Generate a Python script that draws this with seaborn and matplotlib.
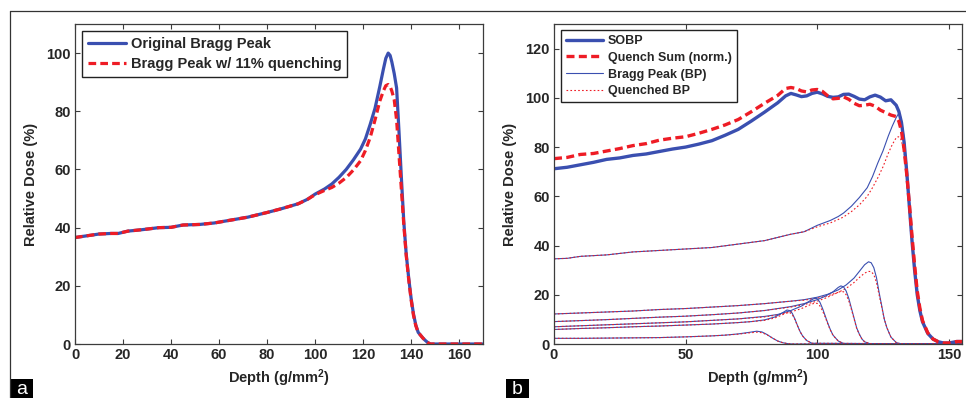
import matplotlib
matplotlib.use("Agg")
import matplotlib.pyplot as plt
import seaborn as sns
from matplotlib.patches import Rectangle
from matplotlib.lines import Line2D

# ---------------- data: panel a ----------------
depth_a = [0, 5, 10, 15, 18, 22, 28, 35, 40, 45, 52, 58, 65, 72, 80, 86, 93, 97, 100,
           104, 107, 110, 113, 116, 119, 121, 123, 125, 127, 128.5, 129.5, 130.5, 131.3,
           132, 133, 134, 135, 136, 137, 138, 139, 140, 141, 142, 143, 144, 145, 146, 147,
           148, 160, 170]
orig_bp = [36.6, 37.2, 37.8, 38.0, 38.0, 38.8, 39.3, 40.0, 40.1, 40.9, 41.1, 41.6, 42.6,
           43.6, 45.2, 46.5, 48.2, 49.8, 51.5, 53.3, 55.0, 57.3, 60.0, 63.3, 67.0, 70.5,
           75.5, 81.0, 88.5, 94.5, 98.2, 100.0, 99.2, 97.0, 93.0, 88.0, 73.0, 57.0, 42.0,
           31.0, 23.0, 16.0, 10.5, 6.5, 4.0, 3.0, 2.0, 1.2, 0.5, 0.0, 0.0, 0.0]
quench_bp = [36.6, 37.2, 37.8, 38.0, 38.0, 38.8, 39.3, 40.0, 40.1, 40.9, 41.1, 41.6, 42.6,
             43.6, 45.2, 46.5, 48.2, 49.8, 51.3, 52.8, 53.8, 55.3, 57.2, 59.8, 63.0, 66.5,
             71.0, 77.0, 83.5, 87.0, 88.8, 89.2, 88.5, 87.0, 84.0, 77.0, 65.0, 53.0, 41.0,
             30.5, 22.5, 15.5, 10.0, 6.3, 4.0, 3.0, 2.0, 1.2, 0.5, 0.0, 0.0, 0.0]

# ---------------- data: panel b ----------------
sobp_depth = [0, 5, 10, 15, 20, 25, 30, 35, 40, 45, 50, 55, 60, 65, 70, 75, 80, 85, 88, 90,
              92, 94, 96, 98, 100, 102, 104, 106, 108, 110, 112, 114, 116, 118, 120, 122,
              124, 126, 128, 130, 131, 132, 133, 134, 135, 136, 137, 138, 139, 140, 142,
              144, 146, 148, 150, 153, 155]
sobp = [71.2, 71.8, 72.8, 73.8, 75.0, 75.6, 76.6, 77.2, 78.2, 79.2, 80.0, 81.2, 82.6, 84.8,
        87.2, 90.6, 94.2, 98.0, 100.8, 101.8, 101.2, 100.5, 100.8, 101.8, 102.3, 101.6,
        100.6, 100.2, 100.4, 101.4, 101.5, 100.6, 99.5, 99.2, 100.4, 101.1, 100.3, 98.8,
        99.2, 97.0, 94.5, 90.0, 82.0, 70.0, 56.0, 42.0, 30.0, 20.0, 13.5, 9.0, 4.3, 2.0,
        0.9, 0.4, 0.4, 1.0, 1.0]
quench_sum = [75.3, 75.8, 77.0, 77.4, 78.4, 79.4, 80.6, 81.4, 82.8, 83.6, 84.2, 85.6, 87.2,
              89.0, 91.2, 94.4, 97.8, 101.0, 103.8, 104.2, 103.8, 102.8, 102.4, 103.2,
              103.4, 102.6, 100.8, 99.6, 99.8, 100.4, 99.4, 97.8, 96.8, 97.0, 97.4, 96.6,
              95.0, 94.0, 93.0, 92.4, 90.5, 86.5, 79.0, 69.0, 57.0, 44.0, 32.0, 21.5, 14.5,
              9.5, 4.5, 2.0, 0.9, 0.4, 0.4, 1.0, 1.0]

bp1_depth = [0, 5, 10, 20, 30, 40, 50, 60, 70, 80, 90, 95, 100, 105, 108, 110, 113, 116,
             119, 121, 123, 125, 127, 128.5, 130, 130.8, 131.5, 132, 133, 134, 135, 136,
             137, 138, 139, 140, 142, 144, 146, 148, 150, 155]
bp1 = [34.6, 34.8, 35.6, 36.2, 37.4, 38.0, 38.6, 39.2, 40.6, 42.0, 44.6, 45.6, 48.2, 50.2,
       51.8, 53.2, 56.0, 59.5, 63.5, 68.0, 73.5, 78.5, 84.5, 88.5, 92.0, 93.4, 93.0, 91.0,
       84.0, 72.0, 58.0, 44.0, 32.0, 21.5, 14.5, 9.5, 4.3, 2.0, 0.8, 0.2, 0.0, 0.0]
qbp1 = [34.6, 34.8, 35.6, 36.2, 37.4, 38.0, 38.6, 39.2, 40.6, 42.0, 44.6, 45.6, 47.6, 49.2,
        50.6, 51.6, 53.8, 56.5, 60.0, 63.5, 67.5, 72.0, 77.5, 81.0, 83.8, 84.2, 83.8, 82.5,
        78.0, 68.0, 56.0, 43.0, 31.5, 21.0, 14.2, 9.3, 4.2, 2.0, 0.8, 0.2, 0.0, 0.0]

bp2_depth = [0, 10, 20, 30, 40, 50, 60, 70, 80, 90, 95, 100, 104, 108, 111, 114, 116, 118,
             119.5, 120.5, 121.5, 122.5, 123.5, 124.5, 125.5, 126.5, 128, 130, 132, 155]
bp2 = [12.2, 12.6, 13.0, 13.4, 14.0, 14.4, 15.0, 15.6, 16.4, 17.4, 18.0, 19.0, 20.2, 22.0,
       24.0, 26.8, 29.5, 32.2, 33.4, 33.0, 31.0, 27.0, 21.0, 15.5, 10.0, 6.5, 2.8, 0.6,
       0.0, 0.0]
qbp2 = [12.2, 12.6, 13.0, 13.4, 14.0, 14.4, 15.0, 15.6, 16.4, 17.4, 17.8, 18.6, 19.6, 21.0,
        22.6, 25.0, 27.0, 28.8, 29.5, 29.4, 28.2, 25.0, 20.0, 15.0, 10.0, 6.5, 2.8, 0.6,
        0.0, 0.0]

bp3_depth = [0, 10, 20, 30, 40, 50, 60, 70, 80, 90, 95, 100, 103, 106, 108, 109, 110, 111,
             112, 113, 114, 115, 116, 117, 118, 120, 155]
bp3 = [9.1, 9.5, 9.9, 10.4, 10.9, 11.3, 11.9, 12.6, 13.6, 15.2, 16.4, 18.0, 19.4, 21.2,
       23.0, 23.6, 23.2, 21.5, 18.5, 14.5, 10.5, 6.5, 4.0, 2.0, 0.9, 0.1, 0.0]
qbp3 = [9.1, 9.5, 9.9, 10.4, 10.9, 11.3, 11.9, 12.6, 13.6, 15.0, 16.0, 17.4, 18.6, 20.0,
        21.0, 21.4, 21.2, 20.0, 17.5, 14.0, 10.2, 6.3, 3.9, 2.0, 0.9, 0.1, 0.0]

bp4_depth = [0, 10, 20, 30, 40, 50, 60, 70, 80, 85, 90, 94, 97, 99, 100, 101, 102, 103,
             104, 105, 106, 108, 110, 155]
bp4 = [7.0, 7.4, 7.8, 8.2, 8.6, 9.0, 9.6, 10.2, 11.2, 12.0, 13.6, 15.4, 17.4, 18.6, 18.4,
       17.0, 14.5, 11.5, 8.5, 5.8, 3.6, 1.2, 0.2, 0.0]
qbp4 = [7.0, 7.4, 7.8, 8.2, 8.6, 9.0, 9.6, 10.2, 11.0, 11.8, 13.0, 14.4, 15.8, 16.6, 16.5,
        15.5, 13.5, 11.0, 8.2, 5.6, 3.5, 1.2, 0.2, 0.0]

bp5_depth = [0, 10, 20, 30, 40, 50, 60, 70, 75, 80, 84, 87, 88.5, 89.5, 90.5, 91.5, 92.5,
             93.5, 94.5, 96, 98, 155]
bp5 = [5.9, 6.3, 6.6, 7.0, 7.3, 7.7, 8.1, 8.7, 9.1, 9.8, 11.0, 12.8, 13.8, 13.6, 12.5,
       10.2, 7.5, 5.0, 3.2, 1.4, 0.3, 0.0]
qbp5 = [5.9, 6.3, 6.6, 7.0, 7.3, 7.7, 8.1, 8.7, 9.1, 9.6, 10.6, 12.0, 12.7, 12.8, 12.0,
        10.0, 7.4, 5.0, 3.2, 1.4, 0.3, 0.0]

bp6_depth = [0, 10, 20, 30, 40, 50, 60, 65, 70, 74, 77, 79, 81, 83, 85, 87, 89, 91, 155]
bp6 = [2.3, 2.3, 2.4, 2.5, 2.6, 2.9, 3.3, 3.6, 4.1, 4.7, 5.2, 4.9, 3.8, 2.4, 1.2, 0.5, 0.1,
       0.0, 0.0]
qbp6 = [2.3, 2.3, 2.4, 2.5, 2.6, 2.9, 3.3, 3.6, 4.0, 4.5, 4.8, 4.6, 3.7, 2.4, 1.2, 0.5, 0.1,
        0.0, 0.0]

bp_depths = [bp1_depth, bp2_depth, bp3_depth, bp4_depth, bp5_depth, bp6_depth]
bp_orig = [bp1, bp2, bp3, bp4, bp5, bp6]
bp_quench = [qbp1, qbp2, qbp3, qbp4, qbp5, qbp6]

xticks_a = [0, 20, 40, 60, 80, 100, 120, 140, 160]
yticks_a = [0, 20, 40, 60, 80, 100]
xticks_b = [0, 50, 100, 150]
yticks_b = [0, 20, 40, 60, 80, 100, 120]

# ---------------- style ----------------
sns.set_theme(style="ticks")
plt.rcParams["font.family"] = ["Liberation Sans", "DejaVu Sans"]
plt.rcParams["font.weight"] = "bold"
plt.rcParams["mathtext.fontset"] = "custom"
plt.rcParams["mathtext.rm"] = "Liberation Sans:bold"
plt.rcParams["mathtext.bf"] = "Liberation Sans:bold"
plt.rcParams["mathtext.it"] = "Liberation Sans:bold"

BLUE = "#3a4fb0"
RED = "#ee1c25"
SPINE = "#3c3c3c"

W, H = 966, 398
fig = plt.figure(figsize=(W / 100, H / 100), dpi=100)


def axrect(x0, y0, x1, y1):
    return [x0 / W, 1 - y1 / H, (x1 - x0) / W, (y1 - y0) / H]


ax1 = fig.add_axes(axrect(75, 24, 483, 344))
ax2 = fig.add_axes(axrect(554, 24, 962, 344))

# panel a
sns.lineplot(x=depth_a, y=orig_bp, ax=ax1, color=BLUE, lw=2.3, sort=False,
             estimator=None, label="Original Bragg Peak")
sns.lineplot(x=depth_a, y=quench_bp, ax=ax1, color=RED, lw=2.3, sort=False,
             estimator=None, label="Bragg Peak w/ 11% quenching", dashes=False)
ax1.lines[-1].set_dashes([2.4, 1.3])

# panel b
thin_b = thin_r = None
for d, o, q in zip(bp_depths, bp_orig, bp_quench):
    sns.lineplot(x=d, y=o, ax=ax2, color=BLUE, lw=0.8, sort=False, estimator=None)
    if thin_b is None:
        thin_b = ax2.lines[-1]
    sns.lineplot(x=d, y=q, ax=ax2, color=RED, lw=0.8, sort=False, estimator=None)
    ax2.lines[-1].set_dashes([1.5, 2.0])
    if thin_r is None:
        thin_r = ax2.lines[-1]
sns.lineplot(x=sobp_depth, y=sobp, ax=ax2, color=BLUE, lw=2.4, sort=False, estimator=None)
h_sobp = ax2.lines[-1]
sns.lineplot(x=sobp_depth, y=quench_sum, ax=ax2, color=RED, lw=2.4, sort=False,
             estimator=None)
h_qs = ax2.lines[-1]
h_qs.set_dashes([2.4, 1.3])

for ax in (ax1, ax2):
    for s in ax.spines.values():
        s.set_visible(True)
        s.set_color(SPINE)
        s.set_linewidth(0.9)
    ax.tick_params(direction="in", length=3.6, width=0.8, color=SPINE,
                   top=True, right=True, labelsize=10.5, pad=3)
    for lab in ax.get_xticklabels() + ax.get_yticklabels():
        lab.set_fontweight("bold")
    ax.set_ylabel("Relative Dose (%)", fontsize=10.5, fontweight="bold", labelpad=6)
    ax.set_xlabel("Depth (g/mm$^2$)", fontsize=10.5, fontweight="bold", labelpad=4)

ax1.set_xlim(0, 170)
ax1.set_ylim(0, 110)
ax1.set_xticks(xticks_a)
ax1.set_yticks(yticks_a)
ax2.set_xlim(0, 155)
ax2.set_ylim(0, 130)
ax2.set_xticks(xticks_b)
ax2.set_yticks(yticks_b)
for ax in (ax1, ax2):
    for lab in ax.get_xticklabels() + ax.get_yticklabels():
        lab.set_fontweight("bold")

leg1 = ax1.legend(loc="upper left", bbox_to_anchor=(0.017, 0.978), borderaxespad=0,
                  fontsize=10.5, frameon=True, fancybox=False, edgecolor="#222222",
                  framealpha=1, handlelength=2.6, handletextpad=0.35, borderpad=0.4,
                  labelspacing=0.45, prop={"weight": "bold", "size": 10.5})
leg1.get_frame().set_linewidth(1.0)

leg2 = ax2.legend([h_sobp, h_qs, thin_b, thin_r],
                  ["SOBP", "Quench Sum (norm.)", "Bragg Peak (BP)", "Quenched BP"],
                  loc="upper left", bbox_to_anchor=(0.017, 0.981), borderaxespad=0,
                  frameon=True, fancybox=False, edgecolor="#222222", framealpha=1,
                  handlelength=3.0, handletextpad=0.35, borderpad=0.4, labelspacing=0.38,
                  prop={"weight": "bold", "size": 9})
leg2.get_frame().set_linewidth(1.0)

# outer frame and panel letters
fig.add_artist(Line2D([10 / W, 1], [1 - 11 / H, 1 - 11 / H], color="#333333", lw=0.9,
                      transform=fig.transFigure))
fig.add_artist(Line2D([10 / W, 10 / W], [0, 1 - 11 / H], color="#333333", lw=0.9,
                      transform=fig.transFigure))
for x0, letter in ((10, "a"), (506, "b")):
    fig.add_artist(Rectangle((x0 / W, 0), 23 / W, 19 / H, facecolor="black",
                             edgecolor="none", transform=fig.transFigure))
    fig.text((x0 + 11.5) / W, 8.5 / H, letter, color="white", fontsize=14,
             fontweight="normal", ha="center", va="center")

fig.savefig("out.png", dpi=100)
